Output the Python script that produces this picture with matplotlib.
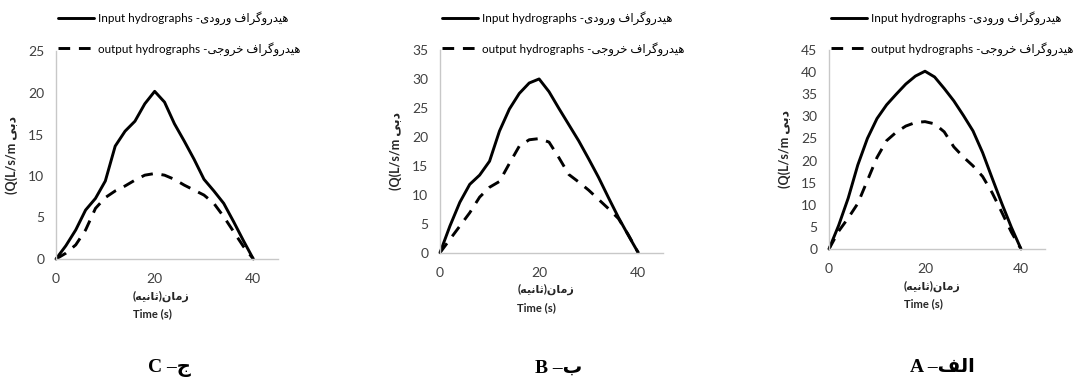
import matplotlib
matplotlib.use("Agg")
import matplotlib.pyplot as plt
from matplotlib.transforms import blended_transform_factory

# time axis shared by all three runs (s)
time = [0, 2, 4, 6, 8, 10, 12, 14, 16, 18, 20, 22, 24, 26, 28, 30, 32, 34, 36, 38, 40]

# discharge (L/s/m) for run A
a_input = [0, 5.3, 11.5, 19.0, 25.0, 29.5, 32.6, 35.0, 37.3, 39.1, 40.2,
           38.9, 36.3, 33.5, 30.2, 26.7, 21.8, 16.0, 10.3, 4.9, 0]
a_output = [0, 4.0, 7.0, 10.3, 15.5, 20.7, 24.5, 26.4, 27.8, 28.6, 28.8,
            28.3, 26.5, 23.1, 20.8, 18.8, 16.4, 12.7, 8.3, 3.8, 0]

# run B
b_input = [0, 4.6, 8.7, 11.8, 13.4, 15.8, 21.0, 24.8, 27.5, 29.3, 30.0,
           27.8, 24.9, 22.1, 19.3, 16.2, 13.0, 9.5, 6.1, 3.0, 0]
b_output = [0, 2.3, 4.6, 6.9, 9.6, 11.3, 12.3, 15.4, 18.4, 19.5, 19.7,
            19.1, 16.4, 13.5, 12.2, 10.8, 9.2, 7.6, 5.9, 3.1, 0]

# run C
c_input = [0, 1.6, 3.5, 5.9, 7.3, 9.4, 13.6, 15.4, 16.6, 18.7, 20.2,
           18.9, 16.3, 14.2, 12.0, 9.6, 8.2, 6.7, 4.5, 2.2, 0]
c_output = [0, 0.7, 1.7, 3.5, 6.1, 7.4, 8.2, 8.8, 9.5, 10.1, 10.3,
            10.1, 9.6, 8.9, 8.3, 7.7, 6.7, 5.1, 3.3, 1.5, 0]

x_ticks = [0, 20, 40]

# persian letters -> (isolated, final, initial, medial); None = no joining to the left
FORMS = {
    '\u0627': ('\uFE8D', '\uFE8E', None, None),            # alef
    '\u0628': ('\uFE8F', '\uFE90', '\uFE91', '\uFE92'),    # beh
    '\u062B': ('\uFE99', '\uFE9A', '\uFE9B', '\uFE9C'),    # theh
    '\u062C': ('\uFE9D', '\uFE9E', '\uFE9F', '\uFEA0'),    # jeem
    '\u062E': ('\uFEA5', '\uFEA6', '\uFEA7', '\uFEA8'),    # khah
    '\u062F': ('\uFEA9', '\uFEAA', None, None),            # dal
    '\u0631': ('\uFEAD', '\uFEAE', None, None),            # reh
    '\u0632': ('\uFEAF', '\uFEB0', None, None),            # zain
    '\u0641': ('\uFED1', '\uFED2', '\uFED3', '\uFED4'),    # feh
    '\u0644': ('\uFEDD', '\uFEDE', '\uFEDF', '\uFEE0'),    # lam
    '\u0645': ('\uFEE1', '\uFEE2', '\uFEE3', '\uFEE4'),    # meem
    '\u0646': ('\uFEE5', '\uFEE6', '\uFEE7', '\uFEE8'),    # noon
    '\u0647': ('\uFEE9', '\uFEEA', '\uFEEB', '\uFEEC'),    # heh
    '\u0648': ('\uFEED', '\uFEEE', None, None),            # waw
    '\u06CC': ('\uFBFC', '\uFBFD', '\uFBFE', '\uFBFF'),    # farsi yeh
    '\u06AF': ('\uFB92', '\uFB93', '\uFB94', '\uFB95'),    # gaf
}
MIRROR = {'(': ')', ')': '('}


def fa(text):
    """shape persian text and return it in visual (left to right) order"""
    out = []
    for i, ch in enumerate(text):
        if ch not in FORMS:
            out.append(MIRROR.get(ch, ch))
            continue
        prev = text[i - 1] if i > 0 else ''
        nxt = text[i + 1] if i + 1 < len(text) else ''
        iso, fin, ini, med = FORMS[ch]
        join_prev = prev in FORMS and FORMS[prev][2] is not None
        join_next = nxt in FORMS and ini is not None
        if join_prev and join_next:
            out.append(med)
        elif join_prev:
            out.append(fin)
        elif join_next:
            out.append(ini)
        else:
            out.append(iso)
    return ''.join(reversed(out))


LABEL_FONT = ['Lato', 'DejaVu Sans']
SERIF_FONT = ['Liberation Serif', 'DejaVu Sans']

input_label = 'Input hydrographs ' + fa('هیدروگراف ورودی-')
output_label = 'output hydrographs ' + fa('هیدروگراف خروجی-')
y_label = '(Q(L/s/m ' + fa('دبی')
x_label_fa = fa('زمان(ثانیه)')

W, H = 1076, 387
fig = plt.figure(figsize=(W / 100, H / 100), dpi=100)

# (left, bottom, right, top) in pixels, y measured from the top
panels = [
    ((56, 259, 278, 51.5), c_input, c_output, 25, 'C \u2013' + fa('ج'), 169),
    ((440, 252.7, 663, 50), b_input, b_output, 35, 'B \u2013' + fa('ب'), 559),
    ((829, 249, 1045, 50), a_input, a_output, 45, 'A \u2013' + fa('الف'), 942),
]

for (l, b, r, t), q_in, q_out, ymax, tag, tag_x in panels:
    ax = fig.add_axes([l / W, 1 - b / H, (r - l) / W, (b - t) / H])
    ax.plot(time, q_in, color='black', lw=2.1, label=input_label,
            clip_on=False, solid_joinstyle='round', solid_capstyle='round')
    ax.plot(time, q_out, color='black', lw=2.1, dashes=(4, 3), label=output_label,
            clip_on=False)

    ax.set_xlim(0, 45)
    ax.set_ylim(0, ymax)
    ax.set_xticks(x_ticks)
    ax.set_yticks(range(0, ymax + 1, 5))
    for side in ['top', 'right']:
        ax.spines[side].set_visible(False)
    for side in ['left', 'bottom']:
        ax.spines[side].set_color('#c8c8c8')
        ax.spines[side].set_linewidth(1.0)
    ax.tick_params(length=0, labelsize=10, labelcolor='#404040')
    ax.tick_params(axis='y', pad=8.5)
    ax.tick_params(axis='x', pad=10)
    for lab in ax.get_xticklabels() + ax.get_yticklabels():
        lab.set_family('Lato')

    ax.set_ylabel(y_label, family=LABEL_FONT, fontsize=9, fontweight='bold',
                  color='#262626')
    ax.yaxis.set_label_coords(-38 / (r - l), 0.5)

    # two-line time label under the axis
    trans = blended_transform_factory(ax.transData, ax.transAxes)
    ax.annotate(x_label_fa, xy=(15.6, 0), xycoords=trans, xytext=(0, -26.6),
                textcoords='offset points', ha='left', va='center',
                family=LABEL_FONT, fontsize=8, fontweight='bold', color='#262626')
    ax.annotate('Time (s)', xy=(15.6, 0), xycoords=trans, xytext=(0, -39.6),
                textcoords='offset points', ha='left', va='center',
                family=LABEL_FONT, fontsize=8, fontweight='bold', color='#262626')

    leg_trans = blended_transform_factory(ax.transAxes, fig.transFigure)
    ax.legend(loc='upper left', bbox_to_anchor=(2 / (r - l), 1 - 11 / H),
              bbox_transform=leg_trans, frameon=False, borderpad=0,
              borderaxespad=0, handlelength=3.1, handletextpad=0.3,
              labelspacing=1.45, prop={'family': LABEL_FONT, 'size': 8.4})

    fig.text(tag_x / W, 1 - 368 / H, tag, ha='center', va='center',
             family=SERIF_FONT, fontsize=14, fontweight='bold')

fig.savefig('out.png', dpi=100)
